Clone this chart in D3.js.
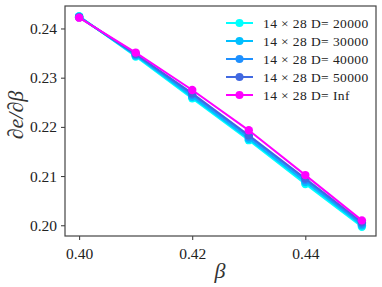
<!DOCTYPE html>
<html lang="en">
<head>
<meta charset="utf-8">
<title>de/dbeta</title>
<script src="https://d3js.org/d3.v7.min.js"></script>
<style>
  body { margin: 0; background: #fff; }
  text { font-family: "Liberation Serif", "DejaVu Serif", serif; }
</style>
</head>
<body>
<script>
// data
var betas = [0.40, 0.41, 0.42, 0.43, 0.44, 0.45];
var labels = ["14 \u00d7 28 D= 20000", "14 \u00d7 28 D= 30000", "14 \u00d7 28 D= 40000", "14 \u00d7 28 D= 50000", "14 \u00d7 28 D= Inf"];
var colors = ["#00ffff", "#00bfff", "#1e90ff", "#4169e1", "#ff00ff"];
var d20000 = [0.2425, 0.2343, 0.2258, 0.2173, 0.2084, 0.1997];
var d30000 = [0.2424, 0.2345, 0.2261, 0.2176, 0.2088, 0.2000];
var d40000 = [0.2423, 0.2347, 0.2265, 0.2180, 0.2092, 0.2003];
var d50000 = [0.2423, 0.2348, 0.2268, 0.2183, 0.2095, 0.2006];
var dInf   = [0.2422, 0.2351, 0.2275, 0.2193, 0.2102, 0.2010];
var series = [d20000, d30000, d40000, d50000, dInf];
var xTicks = [0.40, 0.42, 0.44];
var yTicks = [0.20, 0.21, 0.22, 0.23, 0.24];

var width = 382, height = 287;
var m = {left: 65, right: 6, top: 6, bottom: 51};

var svg = d3.select("body").append("svg")
    .attr("width", width)
    .attr("height", height);

var x = d3.scaleLinear().domain([0.3975, 0.4525]).range([m.left, width - m.right]);
var y = d3.scaleLinear().domain([0.19782, 0.24457]).range([height - m.bottom, m.top]);

// axes
var xAxis = svg.append("g")
    .attr("transform", "translate(0," + (height - m.bottom) + ")")
    .call(d3.axisBottom(x).tickValues(xTicks).tickFormat(d3.format(".2f")).tickSize(4).tickSizeOuter(0));
var yAxis = svg.append("g")
    .attr("transform", "translate(" + m.left + ",0)")
    .call(d3.axisLeft(y).tickValues(yTicks).tickFormat(d3.format(".2f")).tickSize(4).tickSizeOuter(0));

[xAxis, yAxis].forEach(function(g) {
  g.select(".domain").remove();
  g.selectAll(".tick line").attr("stroke", "#333");
  g.selectAll(".tick text").attr("font-size", 15.5).attr("fill", "#222")
    .style("font-family", "'Liberation Serif', serif");
});
xAxis.selectAll(".tick text").attr("dy", "1.0em");
yAxis.selectAll(".tick text").attr("dx", "-1px");

// frame
svg.append("rect")
    .attr("x", m.left).attr("y", m.top)
    .attr("width", width - m.left - m.right)
    .attr("height", height - m.top - m.bottom)
    .attr("fill", "none")
    .attr("stroke", "#444")
    .attr("stroke-width", 1.2);

// lines and markers
var line = d3.line()
    .x(function(d, i) { return x(betas[i]); })
    .y(function(d) { return y(d); });

series.forEach(function(s, k) {
  svg.append("path")
      .datum(s)
      .attr("d", line)
      .attr("fill", "none")
      .attr("stroke", colors[k])
      .attr("stroke-width", 2);
  svg.selectAll(".pt" + k)
      .data(s)
      .enter()
      .append("circle")
      .attr("cx", function(d, i) { return x(betas[i]); })
      .attr("cy", function(d) { return y(d); })
      .attr("r", 4.2)
      .attr("fill", colors[k]);
});

// legend
var leg = svg.append("g").attr("transform", "translate(226,23)");
labels.forEach(function(t, k) {
  var row = leg.append("g").attr("transform", "translate(0," + (k * 18) + ")");
  row.append("line")
      .attr("x1", 0).attr("x2", 27)
      .attr("stroke", colors[k]).attr("stroke-width", 2);
  row.append("circle").attr("cx", 13.5).attr("r", 4).attr("fill", colors[k]);
  row.append("text")
      .attr("x", 37).attr("y", 4.5)
      .attr("font-size", 13.5)
      .attr("letter-spacing", "0.4px")
      .attr("fill", "#222")
      .text(t);
});

// axis labels
svg.append("text")
    .attr("x", 220).attr("y", 278)
    .attr("text-anchor", "middle")
    .attr("font-size", 22)
    .attr("font-style", "italic")
    .attr("fill", "#333")
    .text("\u03b2");

svg.append("text")
    .attr("transform", "translate(23,115) rotate(-90)")
    .attr("text-anchor", "middle")
    .attr("font-size", 22)
    .attr("font-style", "italic")
    .attr("fill", "#333")
    .text("\u2202e/\u2202\u03b2");
</script>
</body>
</html>
